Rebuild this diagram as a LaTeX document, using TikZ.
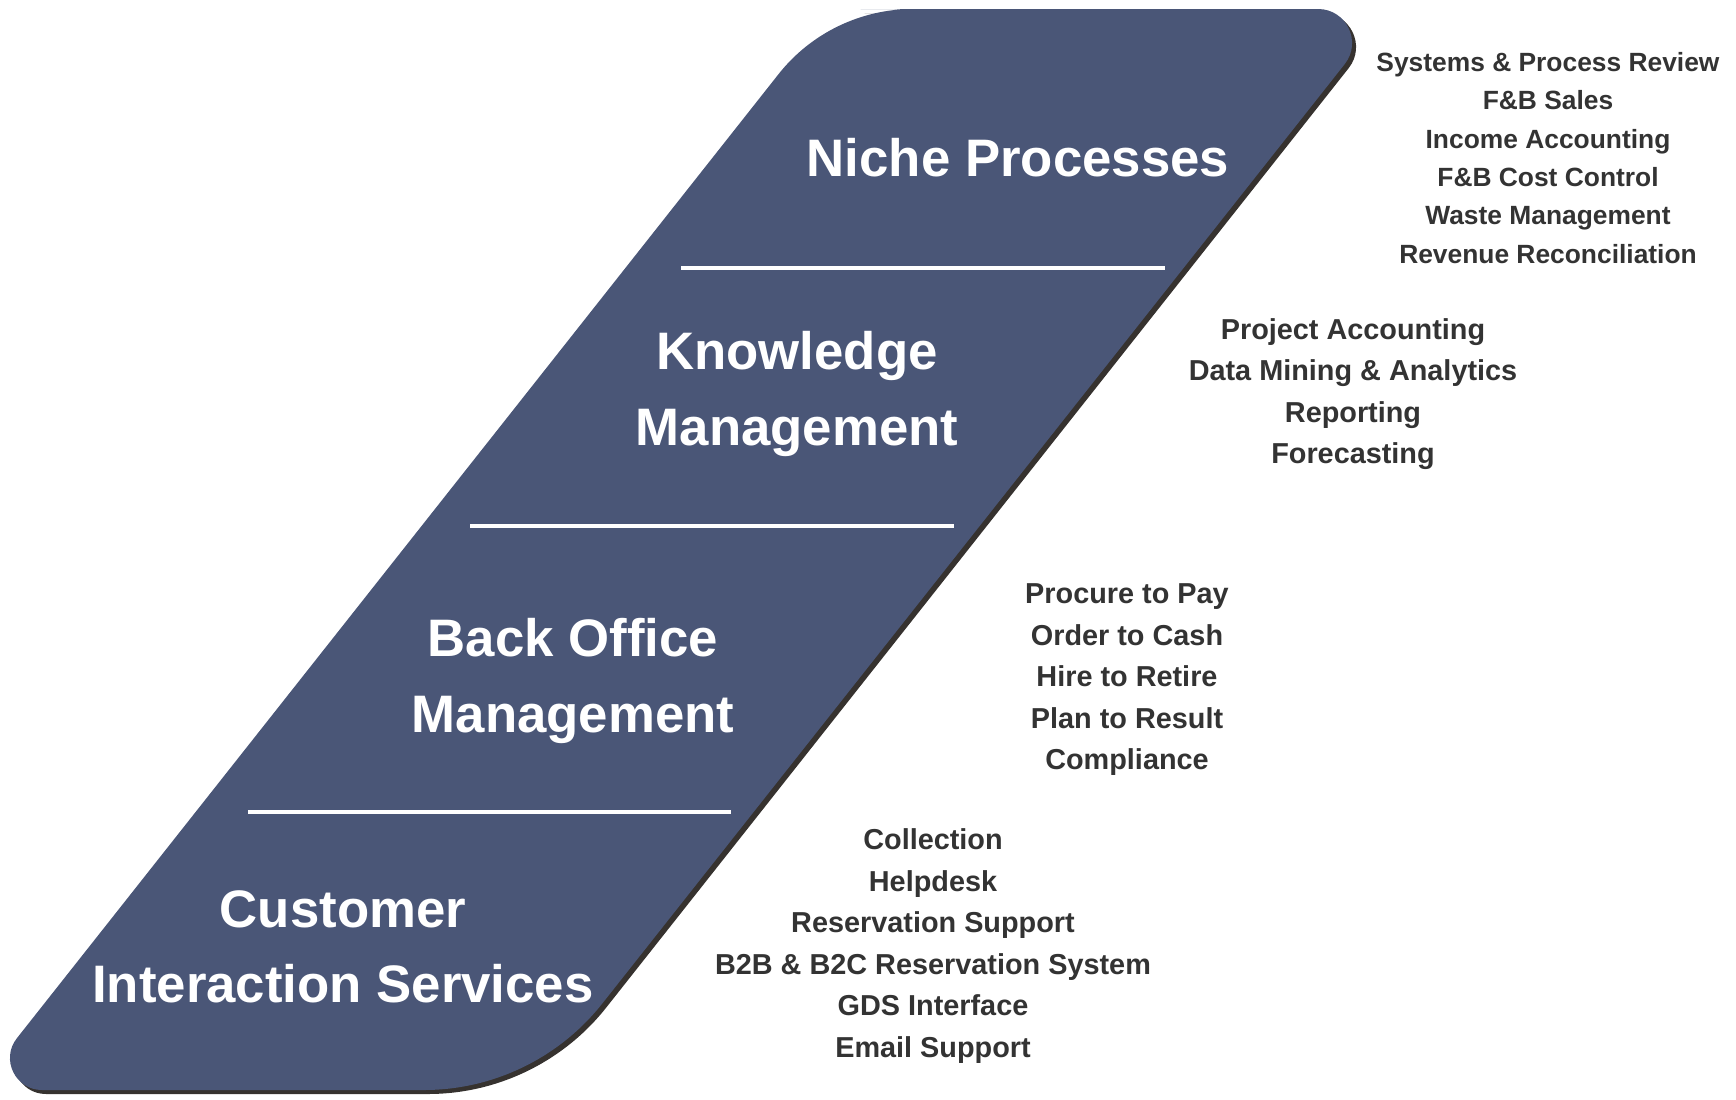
\documentclass[tikz,border=0pt]{standalone}
\usepackage{fontspec}
\setmainfont{Liberation Sans}
\definecolor{slate}{HTML}{4A5677}
\definecolor{slateshadow}{HTML}{36322F}
\definecolor{itemgray}{HTML}{333333}
\begin{document}
\begin{tikzpicture}[x=0.01cm,y=-0.01cm,
    title/.style={text=white,font=\fontsize{15}{21.5}\selectfont\bfseries,align=center,inner sep=0pt},
    item/.style={text=itemgray,font=\fontsize{8.2}{11.8}\selectfont\bfseries,align=center,inner sep=0pt},
    divider/.style={white,line width=1.15pt}]
    \useasboundingbox (0,0) rectangle (1736,1100);
    \fill[slateshadow,shift={(4,4)}] (860.7,9) -- (1318,9) .. controls (1346.4,9) and (1362.3,41.8) .. (1344.7,64.1) -- (602.2,1003.6) .. controls (559.2,1058) and (493.3,1090) .. (424,1090) -- (42,1090) .. controls (15.3,1090) and (0.3,1059.2) .. (16.9,1038.2) -- (778.5,74.2) .. controls (810.9,33.1) and (860.7,9) .. (913,9) -- cycle;
    \fill[slate] (860.7,9) -- (1318,9) .. controls (1346.4,9) and (1362.3,41.8) .. (1344.7,64.1) -- (602.2,1003.6) .. controls (559.2,1058) and (493.3,1090) .. (424,1090) -- (42,1090) .. controls (15.3,1090) and (0.3,1059.2) .. (16.9,1038.2) -- (778.5,74.2) .. controls (810.9,33.1) and (860.7,9) .. (913,9) -- cycle;

    \draw[divider] (681,268) -- (1165,268);
    \draw[divider] (470,526) -- (954,526);
    \draw[divider] (248,812) -- (731,812);

    \node[title] (niche) at (1018,158) {Niche Processes};
    \node[title] (knowledge) at (797,394) {Knowledge\\Management};
    \node[title] (backoffice) at (573,681) {Back Office\\Management};
    \node[title] (customer) at (343,947) {Customer\\Interaction Services};

    \node[item,font=\fontsize{7.5}{10.9}\selectfont\bfseries] (nicheitems) at (1548,158) {Systems \& Process Review\\F\&B Sales\\Income Accounting\\F\&B Cost Control\\Waste Management\\Revenue Reconciliation};
    \node[item] (knowledgeitems) at (1353,394) {Project Accounting\\Data Mining \& Analytics\\Reporting\\Forecasting};
    \node[item] (backofficeitems) at (1127,680) {Procure to Pay\\Order to Cash\\Hire to Retire\\Plan to Result\\Compliance};
    \node[item] (customeritems) at (933,946) {Collection\\Helpdesk\\Reservation Support\\B2B \& B2C Reservation System\\GDS Interface\\Email Support};
\end{tikzpicture}
\end{document}
